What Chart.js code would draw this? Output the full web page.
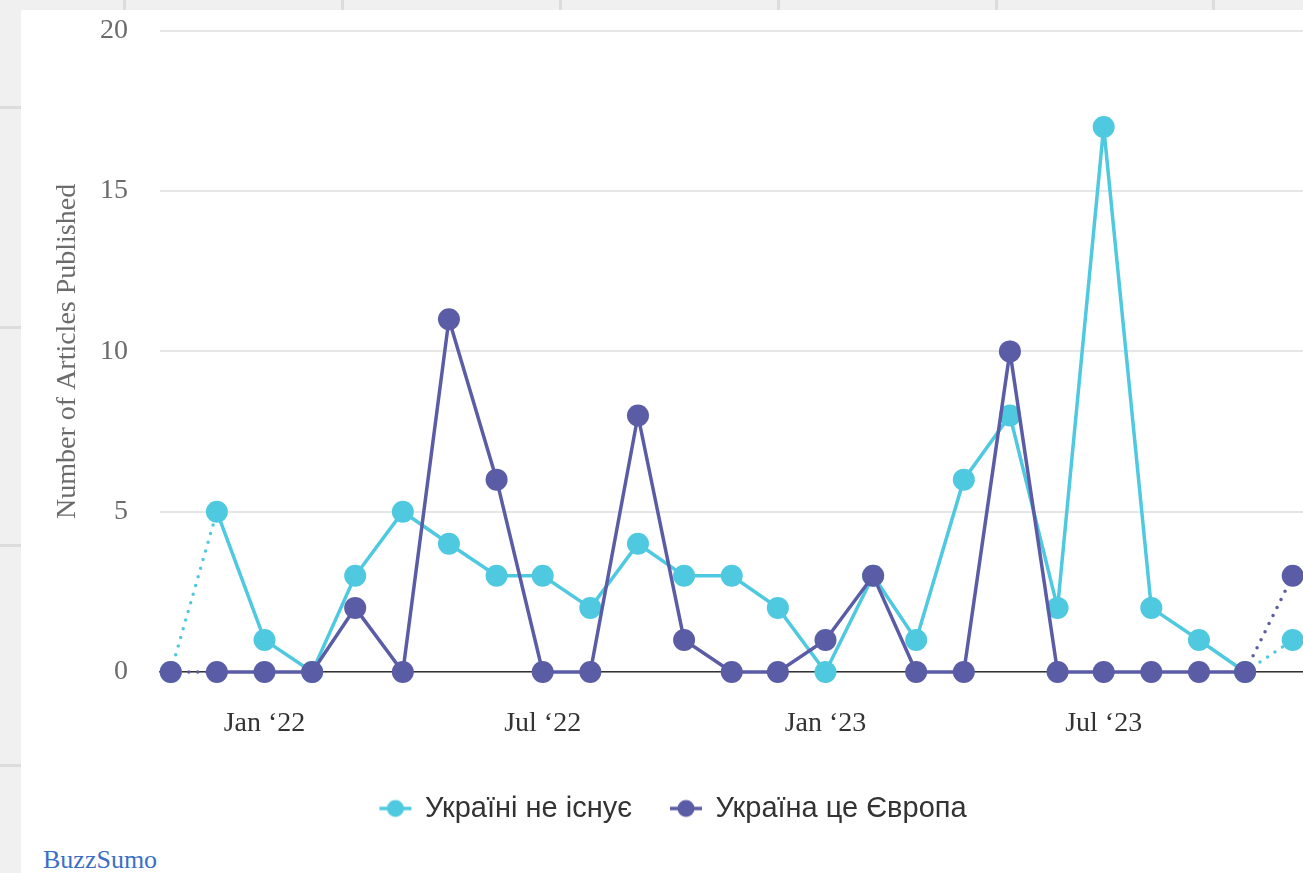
<!DOCTYPE html>
<html>
<head>
<meta charset="utf-8">
<script src="https://cdn.jsdelivr.net/npm/chart.js@4"></script>
<style>
  html, body { margin: 0; padding: 0; overflow: hidden; }
  body { width: 1303px; height: 873px; background: #f0f0f0; position: relative; }
  .vline { position: absolute; top: 0; width: 3px; height: 12px; background: #dcdcdc; }
  .hline { position: absolute; left: 0; width: 22px; height: 3px; background: #dcdcdc; }
  #panel { position: absolute; left: 21px; top: 10px; width: 1310px; height: 880px; background: #fff; }
  #wrap { position: absolute; left: 21px; top: -18px; width: 1305px; height: 851px; }
  #source { position: absolute; left: 43px; top: 845px; font: 26px "Liberation Serif", serif; color: #3a6fc6; }
</style>
</head>
<body>
<div class="vline" style="left:123px"></div>
<div class="vline" style="left:341px"></div>
<div class="vline" style="left:559px"></div>
<div class="vline" style="left:777px"></div>
<div class="vline" style="left:995px"></div>
<div class="vline" style="left:1212px"></div>
<div class="hline" style="top:106px"></div>
<div class="hline" style="top:326px"></div>
<div class="hline" style="top:544px"></div>
<div class="hline" style="top:764px"></div>
<div id="panel"></div>
<div id="wrap"><canvas id="chart"></canvas></div>
<div id="source">BuzzSumo</div>
<script>
const months = ["2021-11", "2021-12", "2022-01", "2022-02", "2022-03", "2022-04", "2022-05", "2022-06",
    "2022-07", "2022-08", "2022-09", "2022-10", "2022-11", "2022-12", "2023-01", "2023-02", "2023-03",
    "2023-04", "2023-05", "2023-06", "2023-07", "2023-08", "2023-09", "2023-10", "2023-11"];
const notExists = [0, 5, 1, 0, 3, 5, 4, 3, 3, 2, 4, 3, 3, 2, 0, 3, 1, 6, 8, 2, 17, 2, 1, 0, 1];
const isEurope = [0, 0, 0, 0, 2, 0, 11, 6, 0, 0, 8, 1, 0, 0, 1, 3, 0, 0, 10, 0, 0, 0, 0, 0, 3];
const seriesNames = ["Україні не існує", "Україна це Європа"];
const xTickDates = ["2022-01", "2022-07", "2023-01", "2023-07"];
const xTickLabels = ["Jan \u201822", "Jul \u201822", "Jan \u201823", "Jul \u201823"];
const yTicks = [0, 5, 10, 15, 20];

const CYAN = "#4fc9e0";
const PURPLE = "#5b5ca6";

// days since the first month, so the spacing follows the calendar
const dayOf = s => (Date.UTC(+s.slice(0, 4), +s.slice(5, 7) - 1, 1) - Date.UTC(2021, 10, 1)) / 86400000;
const toPoints = vals => vals.map((v, i) => ({ x: dayOf(months[i]), y: v }));

function marker(color) {
    const c = document.createElement("canvas");
    c.width = 36; c.height = 22;
    const g = c.getContext("2d");
    g.strokeStyle = color; g.lineWidth = 3.5;
    g.beginPath(); g.moveTo(2, 11); g.lineTo(34, 11); g.stroke();
    g.fillStyle = color;
    g.beginPath(); g.arc(18, 11, 8.5, 0, Math.PI * 2); g.fill();
    return c;
}

const last = months.length - 1;
const dotted = ctx => (ctx.p0DataIndex === 0 || ctx.p1DataIndex === last) ? [0, 9] : undefined;

function lineSet(label, vals, color) {
    return {
        label: label,
        data: toPoints(vals),
        borderColor: color,
        backgroundColor: color,
        borderWidth: 3.5,
        borderCapStyle: "round",
        pointRadius: 11,
        pointHoverRadius: 11,
        pointBorderWidth: 0,
        tension: 0,
        clip: false,
        segment: { borderDash: dotted },
    };
}

const markers = [marker(PURPLE), marker(CYAN)];
const defaultGen = Chart.defaults.plugins.legend.labels.generateLabels;

new Chart(document.getElementById("chart"), {
    type: "line",
    data: {
        // purple first so it is drawn on top; legend is reversed
        datasets: [
            lineSet(seriesNames[1], isEurope, PURPLE),
            lineSet(seriesNames[0], notExists, CYAN),
        ],
    },
    options: {
        responsive: true,
        maintainAspectRatio: false,
        animation: false,
        layout: { padding: 0 },
        scales: {
            x: {
                type: "linear",
                min: -7,
                max: 744.5,
                afterFit: s => { s.height = 83; },
                afterBuildTicks: s => { s.ticks = xTickDates.map(d => ({ value: dayOf(d) })); },
                ticks: {
                    autoSkip: false,
                    maxRotation: 0,
                    padding: 24,
                    color: "#333",
                    font: { family: "Liberation Serif", size: 28 },
                    callback: (v, i) => xTickLabels[i],
                },
                grid: { drawOnChartArea: false, tickLength: 11, tickColor: "#333", tickWidth: 1.5 },
                border: { color: "#333", width: 1.5 },
            },
            y: {
                min: 0,
                max: 20,
                afterFit: s => { s.width = 139; },
                afterBuildTicks: s => { s.ticks = yTicks.map(v => ({ value: v })); },
                ticks: {
                    padding: 32,
                    color: "#6b6b6b",
                    font: { family: "Liberation Serif", size: 28 },
                },
                grid: { color: "#e6e6e6", lineWidth: 2, drawTicks: false },
                border: { display: false },
                title: {
                    display: true,
                    text: "Number of Articles Published",
                    color: "#6b6b6b",
                    font: { family: "Liberation Serif", size: 28 },
                    padding: { top: 30, bottom: 0 },
                },
            },
        },
        plugins: {
            legend: {
                position: "bottom",
                reverse: true,
                labels: {
                    usePointStyle: true,
                    pointStyleWidth: 30,
                    padding: 39,
                    color: "#333",
                    font: { family: "Liberation Sans", size: 29 },
                    generateLabels: chart => defaultGen(chart).map(l => ({ ...l, pointStyle: markers[l.datasetIndex] })),
                },
            },
            tooltip: { enabled: false },
        },
    },
});
</script>
</body>
</html>
